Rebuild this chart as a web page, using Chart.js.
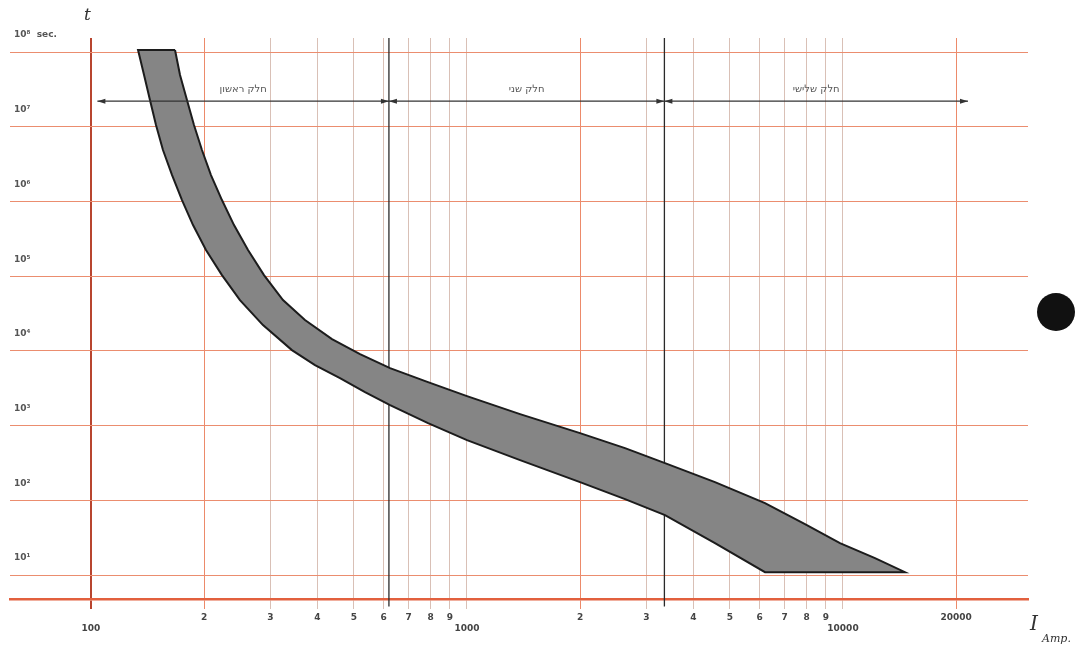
<!DOCTYPE html>
<html>
<head>
<meta charset="utf-8">
<script src="https://cdn.jsdelivr.net/npm/chart.js@4.4.1/dist/chart.umd.min.js"></script>
<style>
  body { margin: 0; background: #fff; }
  #wrap { width: 1075px; height: 647px; position: relative; }
</style>
</head>
<body>
<div id="wrap"><canvas id="fuseChart"></canvas></div>
<script>
// axis ticks
const currentTicks = [100, 200, 300, 400, 500, 600, 700, 800, 900,
                      1000, 2000, 3000, 4000, 5000, 6000, 7000, 8000, 9000,
                      10000, 20000];
const currentLabels = [['', '100'], '2', '3', '4', '5', '6', '7', '8', '9',
                       ['', '1000'], '2', '3', '4', '5', '6', '7', '8', '9',
                       ['', '10000'], '20000'];
const timeTicks = [10, 100, 1e3, 1e4, 1e5, 1e6, 1e7, 1e8];
const timeLabels = ['10¹', '10²', '10³', '10⁴', '10⁵', '10⁶', '10⁷', '10⁸  sec.'];

// band edges (current in A, time in s)
const upperCurrent = [167.3, 172.5, 180, 187.9, 197.3, 208.5, 223, 240.1, 261.6, 288.5, 324.1, 370.8,
                      437.5, 519.4, 624.3, 787.7, 1000, 1384, 1998, 2632, 3362, 4566, 6203, 7925,
                      9817, 12165, 14617];
const upperTime = [1.064e8, 4.92e7, 2.278e7, 1.054e7, 4.88e6, 2.257e6, 1.044e6, 4.83e5, 2.236e5, 1.034e5,
                   4.79e4, 2.584e4, 1.439e4, 9061, 5885, 3822, 2483, 1425, 793.3, 499.7, 314.8, 175.2,
                   91.7, 48.0, 26.7, 16.84, 10.94];
const lowerCurrent = [133.4, 138.4, 143.5, 148.9, 155.4, 164.3, 174.6, 186.8, 202.2, 223, 249, 286.7,
                      342.3, 394.2, 459.4, 535.5, 624.3, 787.7, 1000, 1384, 1998, 2632, 3362, 4566, 6203];
const lowerTime = [1.064e8, 4.92e7, 2.278e7, 1.054e7, 4.88e6, 2.257e6, 1.044e6, 4.83e5, 2.236e5, 1.034e5,
                   4.79e4, 2.215e4, 1.025e4, 6452, 4324, 2809, 1881, 1080, 639.6, 345.3, 175.2, 103.8,
                   63.4, 26.7, 10.94];

// sections
const sectionNames = ['חלק ראשון', 'חלק שני', 'חלק שלישי'];
const sectionBounds = [104, 620, 3350, 21500];
const sectionTime = 2.2e7;

const xMin = 60.9, xMax = 31050;
const yMin = 4.78, yMax = 1.54e8;

const band = upperCurrent.map((c, i) => ({ x: c, y: upperTime[i] }));
for (let i = lowerCurrent.length - 1; i >= 0; i--) {
    band.push({ x: lowerCurrent[i], y: lowerTime[i] });
}
band.push(band[0]);

const dividers = sectionBounds.slice(1, 3).map(b => ({
    data: [{ x: b, y: 3.8 }, { x: b, y: yMax }],
    showLine: true,
    borderColor: '#2a2a2a',
    borderWidth: 1.3,
    pointRadius: 0,
    clip: false
}));

function arrowHead(ctx, tipX, y, dir) {
    ctx.beginPath();
    ctx.moveTo(tipX, y);
    ctx.lineTo(tipX - dir * 8, y - 2.5);
    ctx.lineTo(tipX - dir * 8, y + 2.5);
    ctx.closePath();
    ctx.fill();
}

const annotations = {
    id: 'annotations',
    afterDatasetsDraw(chart) {
        const { ctx, scales: { x, y } } = chart;
        ctx.save();
        const ay = y.getPixelForValue(sectionTime);
        ctx.strokeStyle = '#333';
        ctx.fillStyle = '#333';
        ctx.lineWidth = 1.1;
        ctx.beginPath();
        ctx.moveTo(x.getPixelForValue(sectionBounds[0]), ay);
        ctx.lineTo(x.getPixelForValue(sectionBounds[3]), ay);
        ctx.stroke();
        for (let i = 0; i < sectionNames.length; i++) {
            const x1 = x.getPixelForValue(sectionBounds[i]);
            const x2 = x.getPixelForValue(sectionBounds[i + 1]);
            arrowHead(ctx, x1, ay, -1);
            arrowHead(ctx, x2, ay, 1);
            ctx.font = '10px "DejaVu Sans"';
            ctx.fillStyle = '#555';
            ctx.textAlign = 'center';
            ctx.textBaseline = 'middle';
            ctx.fillText(sectionNames[i], (x1 + x2) / 2, ay - 12);
            ctx.fillStyle = '#333';
        }
        // axis names
        ctx.fillStyle = '#333';
        ctx.textAlign = 'left';
        ctx.textBaseline = 'alphabetic';
        ctx.font = 'italic 17px "DejaVu Serif"';
        ctx.fillText('t', 84, 20);
        ctx.font = 'italic 20px "DejaVu Serif"';
        ctx.fillText('I', 1030, 630);
        ctx.font = 'italic 11px "DejaVu Serif"';
        ctx.fillText('Amp.', 1042, 642);
        // punch hole
        ctx.fillStyle = '#111';
        ctx.beginPath();
        ctx.arc(1056, 312, 19, 0, Math.PI * 2);
        ctx.fill();
        ctx.restore();
    }
};

function xGridColor(c) {
    const v = c.tick && c.tick.value;
    if (v === 100) return '#b8452f';
    const lead = Math.round(v / Math.pow(10, Math.floor(Math.log10(v) + 1e-9)));
    if (lead === 2) return '#ec8a6a';
    return '#d9c0b6';
}

new Chart(document.getElementById('fuseChart'), {
    type: 'scatter',
    data: {
        datasets: [{
            data: band,
            showLine: true,
            fill: 'shape',
            backgroundColor: '#858585',
            borderColor: '#1c1c1c',
            borderWidth: 2,
            pointRadius: 0,
            tension: 0
        }, ...dividers]
    },
    options: {
        responsive: true,
        maintainAspectRatio: false,
        animation: false,
        layout: { padding: { left: 10, right: 47, top: 38, bottom: 0 } },
        plugins: { legend: false, tooltip: { enabled: false } },
        scales: {
            x: {
                type: 'logarithmic',
                min: xMin,
                max: xMax,
                afterBuildTicks: (scale) => {
                    scale.ticks = currentTicks.map(v => ({ value: v }));
                },
                afterFit: (scale) => { scale.height = 48; },
                ticks: {
                    autoSkip: false,
                    maxRotation: 0,
                    padding: 3,
                    color: '#444',
                    font: { family: 'DejaVu Sans', size: 9, weight: 'bold' },
                    callback: (value, index) => currentLabels[index]
                },
                grid: {
                    color: xGridColor,
                    lineWidth: (c) => (c.tick && c.tick.value === 100 ? 2 : 1),
                    drawTicks: true,
                    tickLength: 10
                },
                border: { color: '#e2603e', width: 2.5 }
            },
            y: {
                type: 'logarithmic',
                min: yMin,
                max: yMax,
                afterBuildTicks: (scale) => {
                    scale.ticks = timeTicks.map(v => ({ value: v }));
                },
                afterFit: (scale) => { scale.width = 0; },
                ticks: {
                    mirror: true,
                    padding: 4,
                    labelOffset: -17,
                    color: '#555',
                    font: { family: 'DejaVu Sans', size: 9, weight: 'bold' },
                    callback: (value, index) => timeLabels[index]
                },
                grid: { color: '#eb8d6f', lineWidth: 1, drawTicks: false },
                border: { display: false }
            }
        }
    },
    plugins: [annotations]
});
</script>
</body>
</html>
